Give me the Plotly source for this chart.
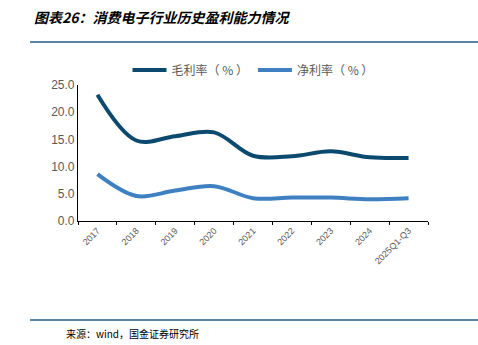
import plotly.graph_objects as go

categories = ["2017", "2018", "2019", "2020", "2021", "2022", "2023", "2024", "2025Q1-Q3"]
gross_margin = [23.2, 14.8, 15.6, 16.3, 12.0, 11.9, 12.8, 11.7, 11.6]
net_margin = [8.6, 4.6, 5.6, 6.4, 4.2, 4.3, 4.3, 4.0, 4.2]
y_ticks = [0, 5, 10, 15, 20, 25]
y_tick_text = ["0.0", "5.0", "10.0", "15.0", "20.0", "25.0"]

fig = go.Figure()
fig.add_trace(go.Scatter(x=categories, y=gross_margin, mode="lines", name="毛利率（ % ）",
                         line=dict(color="#0B4A6E", width=4, shape="spline", smoothing=1.0)))
fig.add_trace(go.Scatter(x=categories, y=net_margin, mode="lines", name="净利率（ % ）",
                         line=dict(color="#3F80C2", width=4, shape="spline", smoothing=1.0)))

font_cjk = "Noto Sans CJK SC, Liberation Sans, sans-serif"

fig.update_layout(
    width=478, height=345,
    margin=dict(l=78, r=50, t=85, b=124),
    paper_bgcolor="white", plot_bgcolor="white",
    font=dict(family=font_cjk, color="#595959", size=11),
    showlegend=True,
    legend=dict(orientation="h", x=0.5, xanchor="center", y=1.11, yanchor="middle",
                font=dict(size=12, color="#595959", family=font_cjk),
                itemwidth=34, tracegroupgap=0, bgcolor="rgba(0,0,0,0)"),
    xaxis=dict(type="category", showline=True, linecolor="#000000", linewidth=1.2,
               ticks="outside", tickson="boundaries", ticklen=3, tickcolor="#000000",
               tickangle=-45, tickfont=dict(size=9, color="#595959", family="Liberation Sans, sans-serif"),
               showgrid=False, zeroline=False, range=[-0.5, 8.5]),
    yaxis=dict(range=[0, 25], tickvals=y_ticks, ticktext=y_tick_text, showline=True,
               linecolor="#000000", linewidth=1.2, showgrid=False, zeroline=False,
               ticks="", tickfont=dict(size=12, color="#595959", family="Liberation Sans, sans-serif")),
    shapes=[
        dict(type="line", xref="paper", yref="paper", x0=-0.137, x1=1.15, y0=(345-124-42)/136, y1=(345-124-42)/136,
             line=dict(color="#1F5B86", width=1.5)),
        dict(type="line", xref="paper", yref="paper", x0=-0.137, x1=1.15, y0=(345-124-320)/136, y1=(345-124-320)/136,
             line=dict(color="#1F5B86", width=1.5)),
    ],
    annotations=[
        dict(text="<b><i>图表26：消费电子行业历史盈利能力情况</i></b>", xref="paper", yref="paper",
             x=(32-78)/350, y=(345-124-17)/136, xanchor="left", yanchor="middle", showarrow=False,
             font=dict(size=14, color="#000000", family=font_cjk)),
        dict(text="来源：wind，国金证券研究所", xref="paper", yref="paper",
             x=(64-78)/350, y=(345-124-333)/136, xanchor="left", yanchor="middle", showarrow=False,
             font=dict(size=10, color="#000000", family=font_cjk)),
    ],
)

fig.write_html("out.html")
